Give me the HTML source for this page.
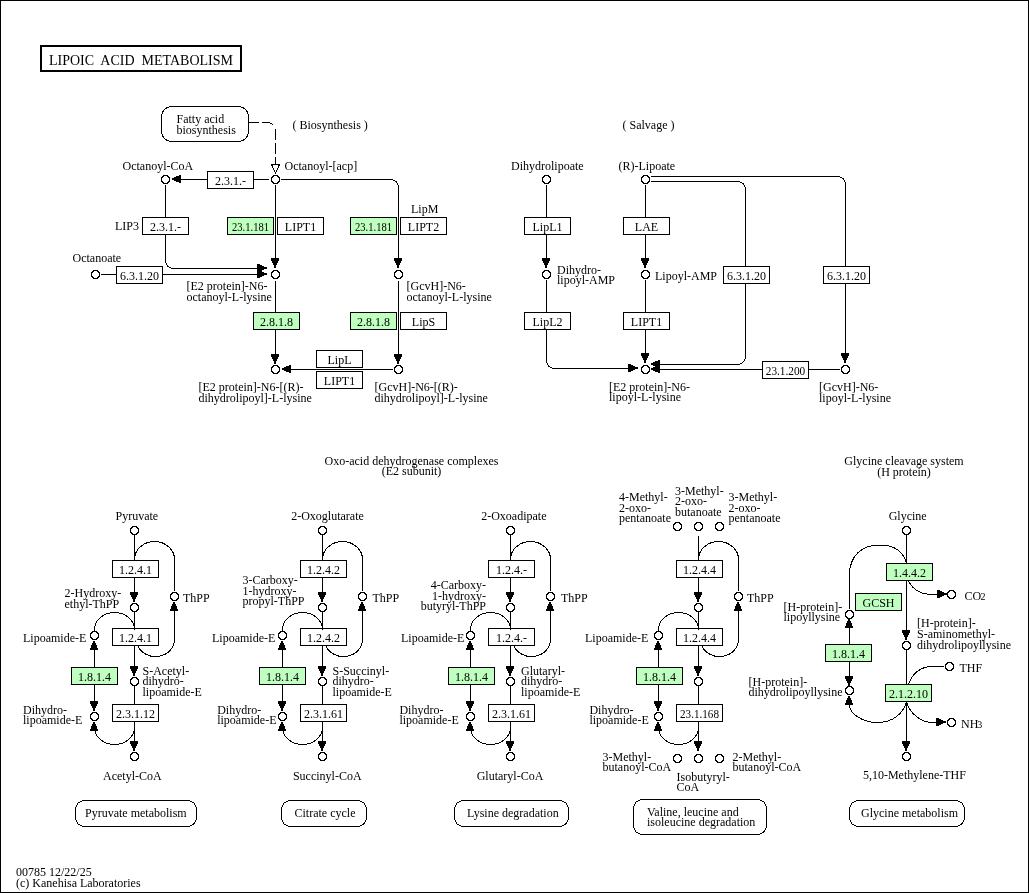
<!DOCTYPE html>
<html><head><meta charset="utf-8"><style>
html,body{margin:0;padding:0;background:#fff;}
svg{display:block;will-change:transform;}
text{font-family:"Liberation Serif",serif;fill:#000;}
</style></head><body>
<svg width="1029" height="893" viewBox="0 0 1029 893">
<rect x="0.5" y="0.5" width="1028" height="892" fill="#fff" stroke="#000"/>
<rect x="41" y="46" width="200" height="25" fill="none" stroke="#000" stroke-width="2"/>
<text x="49" y="65" font-size="14" text-anchor="start" xml:space="preserve">LIPOIC  ACID  METABOLISM</text>
<rect x="161.5" y="106.5" width="87" height="35" rx="10" ry="10" fill="#fff" stroke="#000" shape-rendering="crispEdges"/>
<text x="176.5" y="123.0" font-size="12" text-anchor="start">Fatty acid</text>
<text x="176.5" y="133.5" font-size="12" text-anchor="start">biosynthesis</text>
<text x="292.5" y="128.5" font-size="12" text-anchor="start">( Biosynthesis )</text>
<rect x="249" y="122" width="10" height="1" fill="#000"/>
<rect x="262" y="122" width="7" height="1" fill="#000"/>
<path d="M268.5 122.5Q271 122.5 273 125" fill="none" stroke="#000" shape-rendering="crispEdges"/>
<rect x="275" y="129" width="1" height="11" fill="#000"/>
<rect x="275" y="143" width="1" height="11" fill="#000"/>
<rect x="275" y="157" width="1" height="8" fill="#000"/>
<polygon points="271.5,164.5 279.5,164.5 275.5,173" fill="#fff" stroke="#000" shape-rendering="crispEdges"/>
<path d="M163 175L168 175L168 176L169 176L169 177L170 177L170 182L169 182L169 183L168 183L168 184L163 184L163 183L162 183L162 182L161 182L161 177L162 177L162 176L163 176Z" fill="#000"/><path d="M164 176L167 176L167 177L168 177L168 178L169 178L169 181L168 181L168 182L167 182L167 183L164 183L164 182L163 182L163 181L162 181L162 178L163 178L163 177L164 177Z" fill="#fff"/>
<text x="122.5" y="169.5" font-size="12" text-anchor="start">Octanoyl-CoA</text>
<path d="M273 175L278 175L278 176L279 176L279 177L280 177L280 182L279 182L279 183L278 183L278 184L273 184L273 183L272 183L272 182L271 182L271 177L272 177L272 176L273 176Z" fill="#000"/><path d="M274 176L277 176L277 177L278 177L278 178L279 178L279 181L278 181L278 182L277 182L277 183L274 183L274 182L273 182L273 181L272 181L272 178L273 178L273 177L274 177Z" fill="#fff"/>
<text x="284.5" y="170" font-size="12" text-anchor="start">Octanoyl-[acp]</text>
<rect x="207.5" y="171.5" width="46" height="17" fill="#fff" stroke="#000"/>
<text x="230.5" y="185" font-size="12" text-anchor="middle">2.3.1.-</text>
<rect x="254" y="179" width="15" height="1" fill="#000"/>
<rect x="181" y="179" width="26" height="1" fill="#000"/>
<path d="M172 178V180H174V181H176V182H179V183H181V175H179V176H176V177H174V178Z" fill="#000"/>
<rect x="281" y="179" width="110" height="1" fill="#000"/>
<path d="M390.5 179.5A8 8 0 0 1 398.5 187.5" fill="none" stroke="#000" shape-rendering="crispEdges"/>
<rect x="398" y="187" width="1" height="71" fill="#000"/>
<path d="M394 258H402V261H401V263H400V265H399V268H397V265H396V263H395V261H394Z" fill="#000"/>
<path d="M396 270L401 270L401 271L402 271L402 272L403 272L403 277L402 277L402 278L401 278L401 279L396 279L396 278L395 278L395 277L394 277L394 272L395 272L395 271L396 271Z" fill="#000"/><path d="M397 271L400 271L400 272L401 272L401 273L402 273L402 276L401 276L401 277L400 277L400 278L397 278L397 277L396 277L396 276L395 276L395 273L396 273L396 272L397 272Z" fill="#fff"/>
<rect x="275" y="185" width="1" height="73" fill="#000"/>
<path d="M271 258H279V261H278V263H277V265H276V268H274V265H273V263H272V261H271Z" fill="#000"/>
<path d="M273 270L278 270L278 271L279 271L279 272L280 272L280 277L279 277L279 278L278 278L278 279L273 279L273 278L272 278L272 277L271 277L271 272L272 272L272 271L273 271Z" fill="#000"/><path d="M274 271L277 271L277 272L278 272L278 273L279 273L279 276L278 276L278 277L277 277L277 278L274 278L274 277L273 277L273 276L272 276L272 273L273 273L273 272L274 272Z" fill="#fff"/>
<text x="115" y="230" font-size="12" text-anchor="start">LIP3</text>
<rect x="142.5" y="217.5" width="46" height="17" fill="#fff" stroke="#000"/>
<text x="165.5" y="231" font-size="12" text-anchor="middle">2.3.1.-</text>
<rect x="165" y="185" width="1" height="32" fill="#000"/>
<rect x="165" y="234" width="1" height="27" fill="#000"/>
<path d="M165.5 260.5A8 8 0 0 0 173.5 268.5" fill="none" stroke="#000" shape-rendering="crispEdges"/>
<rect x="173" y="268" width="84" height="1" fill="#000"/>
<path d="M257 264V272H260V271H262V270H264V269H267V267H264V266H262V265H260V264Z" fill="#000"/>
<path d="M93 270L98 270L98 271L99 271L99 272L100 272L100 277L99 277L99 278L98 278L98 279L93 279L93 278L92 278L92 277L91 277L91 272L92 272L92 271L93 271Z" fill="#000"/><path d="M94 271L97 271L97 272L98 272L98 273L99 273L99 276L98 276L98 277L97 277L97 278L94 278L94 277L93 277L93 276L92 276L92 273L93 273L93 272L94 272Z" fill="#fff"/>
<text x="72.5" y="261.5" font-size="12" text-anchor="start">Octanoate</text>
<rect x="116.5" y="266.5" width="46" height="17" fill="#fff" stroke="#000"/>
<text x="139.5" y="280" font-size="12" text-anchor="middle">6.3.1.20</text>
<rect x="101" y="274" width="15" height="1" fill="#000"/>
<rect x="163" y="274" width="94" height="1" fill="#000"/>
<path d="M257 270V278H260V277H262V276H264V275H267V273H264V272H262V271H260V270Z" fill="#000"/>
<rect x="227.5" y="217.5" width="46" height="17" fill="#bfffbf" stroke="#000"/>
<text x="250.5" y="231" font-size="12" text-anchor="middle" textLength="37" lengthAdjust="spacingAndGlyphs">23.1.181</text>
<rect x="277.5" y="217.5" width="46" height="17" fill="#fff" stroke="#000"/>
<text x="300.5" y="231" font-size="12" text-anchor="middle">LIPT1</text>
<rect x="350.5" y="217.5" width="46" height="17" fill="#bfffbf" stroke="#000"/>
<text x="373.5" y="231" font-size="12" text-anchor="middle" textLength="37" lengthAdjust="spacingAndGlyphs">23.1.181</text>
<rect x="400.5" y="217.5" width="46" height="17" fill="#fff" stroke="#000"/>
<text x="423.5" y="231" font-size="12" text-anchor="middle">LIPT2</text>
<text x="411" y="213" font-size="12" text-anchor="start">LipM</text>
<text x="186.5" y="290.0" font-size="12" text-anchor="start">[E2 protein]-N6-</text>
<text x="186.5" y="300.5" font-size="12" text-anchor="start">octanoyl-L-lysine</text>
<text x="406.5" y="290.0" font-size="12" text-anchor="start">[GcvH]-N6-</text>
<text x="406.5" y="300.5" font-size="12" text-anchor="start">octanoyl-L-lysine</text>
<rect x="275" y="281" width="1" height="73" fill="#000"/>
<rect x="253.5" y="312.5" width="46" height="17" fill="#bfffbf" stroke="#000"/>
<text x="276.5" y="326" font-size="12" text-anchor="middle">2.8.1.8</text>
<path d="M271 354H279V357H278V359H277V361H276V364H274V361H273V359H272V357H271Z" fill="#000"/>
<path d="M273 365L278 365L278 366L279 366L279 367L280 367L280 372L279 372L279 373L278 373L278 374L273 374L273 373L272 373L272 372L271 372L271 367L272 367L272 366L273 366Z" fill="#000"/><path d="M274 366L277 366L277 367L278 367L278 368L279 368L279 371L278 371L278 372L277 372L277 373L274 373L274 372L273 372L273 371L272 371L272 368L273 368L273 367L274 367Z" fill="#fff"/>
<rect x="398" y="281" width="1" height="73" fill="#000"/>
<rect x="350.5" y="312.5" width="46" height="17" fill="#bfffbf" stroke="#000"/>
<text x="373.5" y="326" font-size="12" text-anchor="middle">2.8.1.8</text>
<rect x="400.5" y="312.5" width="46" height="17" fill="#fff" stroke="#000"/>
<text x="423.5" y="326" font-size="12" text-anchor="middle">LipS</text>
<path d="M394 354H402V357H401V359H400V361H399V364H397V361H396V359H395V357H394Z" fill="#000"/>
<path d="M396 365L401 365L401 366L402 366L402 367L403 367L403 372L402 372L402 373L401 373L401 374L396 374L396 373L395 373L395 372L394 372L394 367L395 367L395 366L396 366Z" fill="#000"/><path d="M397 366L400 366L400 367L401 367L401 368L402 368L402 371L401 371L401 372L400 372L400 373L397 373L397 372L396 372L396 371L395 371L395 368L396 368L396 367L397 367Z" fill="#fff"/>
<rect x="291" y="369" width="102" height="1" fill="#000"/>
<path d="M282 368V370H284V371H286V372H289V373H291V365H289V366H286V367H284V368Z" fill="#000"/>
<rect x="316.5" y="350.5" width="46" height="17" fill="#fff" stroke="#000"/>
<text x="339.5" y="364" font-size="12" text-anchor="middle">LipL</text>
<rect x="316.5" y="371.5" width="46" height="17" fill="#fff" stroke="#000"/>
<text x="339.5" y="385" font-size="12" text-anchor="middle">LIPT1</text>
<text x="198.5" y="391.0" font-size="12" text-anchor="start">[E2 protein]-N6-[(R)-</text>
<text x="198.5" y="401.5" font-size="12" text-anchor="start">dihydrolipoyl]-L-lysine</text>
<text x="374.5" y="391.0" font-size="12" text-anchor="start">[GcvH]-N6-[(R)-</text>
<text x="374.5" y="401.5" font-size="12" text-anchor="start">dihydrolipoyl]-L-lysine</text>
<text x="622.5" y="129" font-size="12" text-anchor="start">( Salvage )</text>
<path d="M544 175L549 175L549 176L550 176L550 177L551 177L551 182L550 182L550 183L549 183L549 184L544 184L544 183L543 183L543 182L542 182L542 177L543 177L543 176L544 176Z" fill="#000"/><path d="M545 176L548 176L548 177L549 177L549 178L550 178L550 181L549 181L549 182L548 182L548 183L545 183L545 182L544 182L544 181L543 181L543 178L544 178L544 177L545 177Z" fill="#fff"/>
<text x="511" y="170" font-size="12" text-anchor="start">Dihydrolipoate</text>
<path d="M643 175L648 175L648 176L649 176L649 177L650 177L650 182L649 182L649 183L648 183L648 184L643 184L643 183L642 183L642 182L641 182L641 177L642 177L642 176L643 176Z" fill="#000"/><path d="M644 176L647 176L647 177L648 177L648 178L649 178L649 181L648 181L648 182L647 182L647 183L644 183L644 182L643 182L643 181L642 181L642 178L643 178L643 177L644 177Z" fill="#fff"/>
<text x="618.5" y="170" font-size="12" text-anchor="start">(R)-Lipoate</text>
<rect x="546" y="185" width="1" height="73" fill="#000"/>
<rect x="524.5" y="217.5" width="46" height="17" fill="#fff" stroke="#000"/>
<text x="547.5" y="231" font-size="12" text-anchor="middle">LipL1</text>
<path d="M542 258H550V261H549V263H548V265H547V268H545V265H544V263H543V261H542Z" fill="#000"/>
<path d="M544 270L549 270L549 271L550 271L550 272L551 272L551 277L550 277L550 278L549 278L549 279L544 279L544 278L543 278L543 277L542 277L542 272L543 272L543 271L544 271Z" fill="#000"/><path d="M545 271L548 271L548 272L549 272L549 273L550 273L550 276L549 276L549 277L548 277L548 278L545 278L545 277L544 277L544 276L543 276L543 273L544 273L544 272L545 272Z" fill="#fff"/>
<text x="557" y="273.5" font-size="12" text-anchor="start">Dihydro-</text>
<text x="557" y="284.0" font-size="12" text-anchor="start">lipoyl-AMP</text>
<rect x="546" y="280" width="1" height="81" fill="#000"/>
<path d="M546.5 360.5A8 8 0 0 0 554.5 368.5" fill="none" stroke="#000" shape-rendering="crispEdges"/>
<rect x="554" y="368" width="74" height="1" fill="#000"/>
<rect x="524.5" y="312.5" width="46" height="17" fill="#fff" stroke="#000"/>
<text x="547.5" y="326" font-size="12" text-anchor="middle">LipL2</text>
<path d="M628 364V372H631V371H633V370H635V369H638V367H635V366H633V365H631V364Z" fill="#000"/>
<rect x="645" y="185" width="1" height="73" fill="#000"/>
<rect x="623.5" y="217.5" width="46" height="17" fill="#fff" stroke="#000"/>
<text x="646.5" y="231" font-size="12" text-anchor="middle">LAE</text>
<path d="M641 258H649V261H648V263H647V265H646V268H644V265H643V263H642V261H641Z" fill="#000"/>
<path d="M643 270L648 270L648 271L649 271L649 272L650 272L650 277L649 277L649 278L648 278L648 279L643 279L643 278L642 278L642 277L641 277L641 272L642 272L642 271L643 271Z" fill="#000"/><path d="M644 271L647 271L647 272L648 272L648 273L649 273L649 276L648 276L648 277L647 277L647 278L644 278L644 277L643 277L643 276L642 276L642 273L643 273L643 272L644 272Z" fill="#fff"/>
<text x="655" y="279.5" font-size="12" text-anchor="start">Lipoyl-AMP</text>
<rect x="645" y="280" width="1" height="73" fill="#000"/>
<rect x="623.5" y="312.5" width="46" height="17" fill="#fff" stroke="#000"/>
<text x="646.5" y="326" font-size="12" text-anchor="middle">LIPT1</text>
<path d="M641 353H649V356H648V358H647V360H646V363H644V360H643V358H642V356H641Z" fill="#000"/>
<path d="M643 365L648 365L648 366L649 366L649 367L650 367L650 372L649 372L649 373L648 373L648 374L643 374L643 373L642 373L642 372L641 372L641 367L642 367L642 366L643 366Z" fill="#000"/><path d="M644 366L647 366L647 367L648 367L648 368L649 368L649 371L648 371L648 372L647 372L647 373L644 373L644 372L643 372L643 371L642 371L642 368L643 368L643 367L644 367Z" fill="#fff"/>
<text x="609" y="390.5" font-size="12" text-anchor="start">[E2 protein]-N6-</text>
<text x="609" y="401.0" font-size="12" text-anchor="start">lipoyl-L-lysine</text>
<rect x="651" y="176" width="187" height="1" fill="#000"/>
<path d="M837.5 176.5A8 8 0 0 1 845.5 184.5" fill="none" stroke="#000" shape-rendering="crispEdges"/>
<rect x="845" y="184" width="1" height="169" fill="#000"/>
<path d="M841 353H849V356H848V358H847V360H846V363H844V360H843V358H842V356H841Z" fill="#000"/>
<path d="M843 365L848 365L848 366L849 366L849 367L850 367L850 372L849 372L849 373L848 373L848 374L843 374L843 373L842 373L842 372L841 372L841 367L842 367L842 366L843 366Z" fill="#000"/><path d="M844 366L847 366L847 367L848 367L848 368L849 368L849 371L848 371L848 372L847 372L847 373L844 373L844 372L843 372L843 371L842 371L842 368L843 368L843 367L844 367Z" fill="#fff"/>
<rect x="651" y="181" width="87" height="1" fill="#000"/>
<path d="M737.5 181.5A8 8 0 0 1 745.5 189.5" fill="none" stroke="#000" shape-rendering="crispEdges"/>
<rect x="745" y="189" width="1" height="168" fill="#000"/>
<path d="M745.5 356.5A8 8 0 0 1 737.5 364.5" fill="none" stroke="#000" shape-rendering="crispEdges"/>
<rect x="660" y="364" width="78" height="1" fill="#000"/>
<path d="M651 363V365H653V366H655V367H658V368H660V360H658V361H655V362H653V363Z" fill="#000"/>
<rect x="723.5" y="266.5" width="46" height="17" fill="#fff" stroke="#000"/>
<text x="746.5" y="280" font-size="12" text-anchor="middle">6.3.1.20</text>
<rect x="823.5" y="266.5" width="46" height="17" fill="#fff" stroke="#000"/>
<text x="846.5" y="280" font-size="12" text-anchor="middle">6.3.1.20</text>
<rect x="660" y="369" width="180" height="1" fill="#000"/>
<path d="M651 368V370H653V371H655V372H658V373H660V365H658V366H655V367H653V368Z" fill="#000"/>
<rect x="762.5" y="361.5" width="46" height="17" fill="#fff" stroke="#000"/>
<text x="785.5" y="375" font-size="12" text-anchor="middle" textLength="39.5" lengthAdjust="spacingAndGlyphs">23.1.200</text>
<text x="819" y="391.0" font-size="12" text-anchor="start">[GcvH]-N6-</text>
<text x="819" y="401.5" font-size="12" text-anchor="start">lipoyl-L-lysine</text>
<text x="411.5" y="464.5" font-size="12" text-anchor="middle">Oxo-acid dehydrogenase complexes</text>
<text x="411.5" y="475.3" font-size="12" text-anchor="middle">(E2 subunit)</text>
<text x="904" y="464.5" font-size="12" text-anchor="middle">Glycine cleavage system</text>
<text x="904" y="475.5" font-size="12" text-anchor="middle">(H protein)</text>
<path d="M132 526L137 526L137 527L138 527L138 528L139 528L139 533L138 533L138 534L137 534L137 535L132 535L132 534L131 534L131 533L130 533L130 528L131 528L131 527L132 527Z" fill="#000"/><path d="M133 527L136 527L136 528L137 528L137 529L138 529L138 532L137 532L137 533L136 533L136 534L133 534L133 533L132 533L132 532L131 532L131 529L132 529L132 528L133 528Z" fill="#fff"/>
<text x="115.5" y="519.5" font-size="12" text-anchor="start">Pyruvate</text>
<rect x="134" y="535" width="1" height="25" fill="#000"/>
<rect x="112.5" y="560.5" width="46" height="17" fill="#fff" stroke="#000"/>
<text x="135.5" y="574" font-size="12" text-anchor="middle">1.2.4.1</text>
<rect x="134" y="578" width="1" height="14" fill="#000"/>
<path d="M130 592H138V595H137V597H136V599H135V602H133V599H132V597H131V595H130Z" fill="#000"/>
<path d="M132 603L137 603L137 604L138 604L138 605L139 605L139 610L138 610L138 611L137 611L137 612L132 612L132 611L131 611L131 610L130 610L130 605L131 605L131 604L132 604Z" fill="#000"/><path d="M133 604L136 604L136 605L137 605L137 606L138 606L138 609L137 609L137 610L136 610L136 611L133 611L133 610L132 610L132 609L131 609L131 606L132 606L132 605L133 605Z" fill="#fff"/>
<rect x="134" y="612" width="1" height="16" fill="#000"/>
<rect x="112.5" y="628.5" width="46" height="17" fill="#fff" stroke="#000"/>
<text x="135.5" y="642" font-size="12" text-anchor="middle">1.2.4.1</text>
<rect x="134" y="646" width="1" height="20" fill="#000"/>
<path d="M130 666H138V669H137V671H136V673H135V676H133V673H132V671H131V669H130Z" fill="#000"/>
<path d="M132 677L137 677L137 678L138 678L138 679L139 679L139 684L138 684L138 685L137 685L137 686L132 686L132 685L131 685L131 684L130 684L130 679L131 679L131 678L132 678Z" fill="#000"/><path d="M133 678L136 678L136 679L137 679L137 680L138 680L138 683L137 683L137 684L136 684L136 685L133 685L133 684L132 684L132 683L131 683L131 680L132 680L132 679L133 679Z" fill="#fff"/>
<rect x="134" y="686" width="1" height="18" fill="#000"/>
<rect x="112.5" y="704.5" width="46" height="17" fill="#fff" stroke="#000"/>
<text x="135.5" y="718" font-size="12" text-anchor="middle">2.3.1.12</text>
<rect x="134" y="722" width="1" height="19" fill="#000"/>
<path d="M130 741H138V744H137V746H136V748H135V751H133V748H132V746H131V744H130Z" fill="#000"/>
<path d="M132 752L137 752L137 753L138 753L138 754L139 754L139 759L138 759L138 760L137 760L137 761L132 761L132 760L131 760L131 759L130 759L130 754L131 754L131 753L132 753Z" fill="#000"/><path d="M133 753L136 753L136 754L137 754L137 755L138 755L138 758L137 758L137 759L136 759L136 760L133 760L133 759L132 759L132 758L131 758L131 755L132 755L132 754L133 754Z" fill="#fff"/>
<path d="M172 592L177 592L177 593L178 593L178 594L179 594L179 599L178 599L178 600L177 600L177 601L172 601L172 600L171 600L171 599L170 599L170 594L171 594L171 593L172 593Z" fill="#000"/><path d="M173 593L176 593L176 594L177 594L177 595L178 595L178 598L177 598L177 599L176 599L176 600L173 600L173 599L172 599L172 598L171 598L171 595L172 595L172 594L173 594Z" fill="#fff"/>
<text x="183" y="601.5" font-size="12" text-anchor="start">ThPP</text>
<path d="M134.5 559.5A20 18 0 0 1 174.5 559.5L174.5 591" fill="none" stroke="#000" shape-rendering="crispEdges"/>
<path d="M137.9 646A19 17 0 0 0 174.5 639.5L174.5 611" fill="none" stroke="#000" shape-rendering="crispEdges"/>
<path d="M173 602H175V604H176V606H177V609H178V611H170V609H171V606H172V604H173Z" fill="#000"/>
<path d="M92 631L97 631L97 632L98 632L98 633L99 633L99 638L98 638L98 639L97 639L97 640L92 640L92 639L91 639L91 638L90 638L90 633L91 633L91 632L92 632Z" fill="#000"/><path d="M93 632L96 632L96 633L97 633L97 634L98 634L98 637L97 637L97 638L96 638L96 639L93 639L93 638L92 638L92 637L91 637L91 634L92 634L92 633L93 633Z" fill="#fff"/>
<text x="23" y="641.5" font-size="12" text-anchor="start">Lipoamide-E</text>
<path d="M94.5 631L94.5 629.5A20 17 0 0 1 134.5 629.5" fill="none" stroke="#000" shape-rendering="crispEdges"/>
<path d="M93 641H95V643H96V645H97V648H98V650H90V648H91V645H92V643H93Z" fill="#000"/>
<rect x="94" y="650" width="1" height="51" fill="#000"/>
<rect x="71.5" y="667.5" width="46" height="17" fill="#bfffbf" stroke="#000"/>
<text x="94.5" y="681" font-size="12" text-anchor="middle">1.8.1.4</text>
<path d="M90 701H98V704H97V706H96V708H95V711H93V708H92V706H91V704H90Z" fill="#000"/>
<path d="M92 712L97 712L97 713L98 713L98 714L99 714L99 719L98 719L98 720L97 720L97 721L92 721L92 720L91 720L91 719L90 719L90 714L91 714L91 713L92 713Z" fill="#000"/><path d="M93 713L96 713L96 714L97 714L97 715L98 715L98 718L97 718L97 719L96 719L96 720L93 720L93 719L92 719L92 718L91 718L91 715L92 715L92 714L93 714Z" fill="#fff"/>
<path d="M134.5 727.5A20 17 0 0 1 94.5 727.5L94.5 731" fill="none" stroke="#000" shape-rendering="crispEdges"/>
<path d="M93 722H95V724H96V726H97V729H98V731H90V729H91V726H92V724H93Z" fill="#000"/>
<text x="23" y="713.5" font-size="12" text-anchor="start">Dihydro-</text>
<text x="23" y="724.0" font-size="12" text-anchor="start">lipoamide-E</text>
<text x="64.5" y="597.0" font-size="12" text-anchor="start">2-Hydroxy-</text>
<text x="64.5" y="607.5" font-size="12" text-anchor="start">ethyl-ThPP</text>
<text x="142.5" y="674.5" font-size="12" text-anchor="start">S-Acetyl-</text>
<text x="142.5" y="685.0" font-size="12" text-anchor="start">dihydro-</text>
<text x="142.5" y="695.5" font-size="12" text-anchor="start">lipoamide-E</text>
<text x="103" y="779.5" font-size="12" text-anchor="start">Acetyl-CoA</text>
<rect x="75.5" y="800.5" width="121" height="26" rx="9" ry="9" fill="#fff" stroke="#000" shape-rendering="crispEdges"/>
<text x="85" y="816.5" font-size="12" text-anchor="start">Pyruvate metabolism</text>
<path d="M320 526L325 526L325 527L326 527L326 528L327 528L327 533L326 533L326 534L325 534L325 535L320 535L320 534L319 534L319 533L318 533L318 528L319 528L319 527L320 527Z" fill="#000"/><path d="M321 527L324 527L324 528L325 528L325 529L326 529L326 532L325 532L325 533L324 533L324 534L321 534L321 533L320 533L320 532L319 532L319 529L320 529L320 528L321 528Z" fill="#fff"/>
<text x="291.2" y="519.5" font-size="12" text-anchor="start">2-Oxoglutarate</text>
<rect x="322" y="535" width="1" height="25" fill="#000"/>
<rect x="300.5" y="560.5" width="46" height="17" fill="#fff" stroke="#000"/>
<text x="323.5" y="574" font-size="12" text-anchor="middle">1.2.4.2</text>
<rect x="322" y="578" width="1" height="14" fill="#000"/>
<path d="M318 592H326V595H325V597H324V599H323V602H321V599H320V597H319V595H318Z" fill="#000"/>
<path d="M320 603L325 603L325 604L326 604L326 605L327 605L327 610L326 610L326 611L325 611L325 612L320 612L320 611L319 611L319 610L318 610L318 605L319 605L319 604L320 604Z" fill="#000"/><path d="M321 604L324 604L324 605L325 605L325 606L326 606L326 609L325 609L325 610L324 610L324 611L321 611L321 610L320 610L320 609L319 609L319 606L320 606L320 605L321 605Z" fill="#fff"/>
<rect x="322" y="612" width="1" height="16" fill="#000"/>
<rect x="300.5" y="628.5" width="46" height="17" fill="#fff" stroke="#000"/>
<text x="323.5" y="642" font-size="12" text-anchor="middle">1.2.4.2</text>
<rect x="322" y="646" width="1" height="20" fill="#000"/>
<path d="M318 666H326V669H325V671H324V673H323V676H321V673H320V671H319V669H318Z" fill="#000"/>
<path d="M320 677L325 677L325 678L326 678L326 679L327 679L327 684L326 684L326 685L325 685L325 686L320 686L320 685L319 685L319 684L318 684L318 679L319 679L319 678L320 678Z" fill="#000"/><path d="M321 678L324 678L324 679L325 679L325 680L326 680L326 683L325 683L325 684L324 684L324 685L321 685L321 684L320 684L320 683L319 683L319 680L320 680L320 679L321 679Z" fill="#fff"/>
<rect x="322" y="686" width="1" height="18" fill="#000"/>
<rect x="300.5" y="704.5" width="46" height="17" fill="#fff" stroke="#000"/>
<text x="323.5" y="718" font-size="12" text-anchor="middle">2.3.1.61</text>
<rect x="322" y="722" width="1" height="19" fill="#000"/>
<path d="M318 741H326V744H325V746H324V748H323V751H321V748H320V746H319V744H318Z" fill="#000"/>
<path d="M320 752L325 752L325 753L326 753L326 754L327 754L327 759L326 759L326 760L325 760L325 761L320 761L320 760L319 760L319 759L318 759L318 754L319 754L319 753L320 753Z" fill="#000"/><path d="M321 753L324 753L324 754L325 754L325 755L326 755L326 758L325 758L325 759L324 759L324 760L321 760L321 759L320 759L320 758L319 758L319 755L320 755L320 754L321 754Z" fill="#fff"/>
<path d="M360 592L365 592L365 593L366 593L366 594L367 594L367 599L366 599L366 600L365 600L365 601L360 601L360 600L359 600L359 599L358 599L358 594L359 594L359 593L360 593Z" fill="#000"/><path d="M361 593L364 593L364 594L365 594L365 595L366 595L366 598L365 598L365 599L364 599L364 600L361 600L361 599L360 599L360 598L359 598L359 595L360 595L360 594L361 594Z" fill="#fff"/>
<text x="372.5" y="601.5" font-size="12" text-anchor="start">ThPP</text>
<path d="M322.5 559.5A20 18 0 0 1 362.5 559.5L362.5 591" fill="none" stroke="#000" shape-rendering="crispEdges"/>
<path d="M325.9 646A19 17 0 0 0 362.5 639.5L362.5 611" fill="none" stroke="#000" shape-rendering="crispEdges"/>
<path d="M361 602H363V604H364V606H365V609H366V611H358V609H359V606H360V604H361Z" fill="#000"/>
<path d="M280 631L285 631L285 632L286 632L286 633L287 633L287 638L286 638L286 639L285 639L285 640L280 640L280 639L279 639L279 638L278 638L278 633L279 633L279 632L280 632Z" fill="#000"/><path d="M281 632L284 632L284 633L285 633L285 634L286 634L286 637L285 637L285 638L284 638L284 639L281 639L281 638L280 638L280 637L279 637L279 634L280 634L280 633L281 633Z" fill="#fff"/>
<text x="212" y="641.5" font-size="12" text-anchor="start">Lipoamide-E</text>
<path d="M282.5 631L282.5 629.5A20 17 0 0 1 322.5 629.5" fill="none" stroke="#000" shape-rendering="crispEdges"/>
<path d="M281 641H283V643H284V645H285V648H286V650H278V648H279V645H280V643H281Z" fill="#000"/>
<rect x="282" y="650" width="1" height="51" fill="#000"/>
<rect x="259.5" y="667.5" width="46" height="17" fill="#bfffbf" stroke="#000"/>
<text x="282.5" y="681" font-size="12" text-anchor="middle">1.8.1.4</text>
<path d="M278 701H286V704H285V706H284V708H283V711H281V708H280V706H279V704H278Z" fill="#000"/>
<path d="M280 712L285 712L285 713L286 713L286 714L287 714L287 719L286 719L286 720L285 720L285 721L280 721L280 720L279 720L279 719L278 719L278 714L279 714L279 713L280 713Z" fill="#000"/><path d="M281 713L284 713L284 714L285 714L285 715L286 715L286 718L285 718L285 719L284 719L284 720L281 720L281 719L280 719L280 718L279 718L279 715L280 715L280 714L281 714Z" fill="#fff"/>
<path d="M322.5 727.5A20 17 0 0 1 282.5 727.5L282.5 731" fill="none" stroke="#000" shape-rendering="crispEdges"/>
<path d="M281 722H283V724H284V726H285V729H286V731H278V729H279V726H280V724H281Z" fill="#000"/>
<text x="217.2" y="713.5" font-size="12" text-anchor="start">Dihydro-</text>
<text x="217.2" y="724.0" font-size="12" text-anchor="start">lipoamide-E</text>
<text x="242.5" y="584.0" font-size="12" text-anchor="start">3-Carboxy-</text>
<text x="242.5" y="594.5" font-size="12" text-anchor="start">1-hydroxy-</text>
<text x="242.5" y="605.0" font-size="12" text-anchor="start">propyl-ThPP</text>
<text x="332.5" y="674.5" font-size="12" text-anchor="start">S-Succinyl-</text>
<text x="332.5" y="685.0" font-size="12" text-anchor="start">dihydro-</text>
<text x="332.5" y="695.5" font-size="12" text-anchor="start">lipoamide-E</text>
<text x="292.9" y="779.5" font-size="12" text-anchor="start">Succinyl-CoA</text>
<rect x="281.5" y="800.5" width="85" height="26" rx="9" ry="9" fill="#fff" stroke="#000" shape-rendering="crispEdges"/>
<text x="294.5" y="816.5" font-size="12" text-anchor="start">Citrate cycle</text>
<path d="M508 526L513 526L513 527L514 527L514 528L515 528L515 533L514 533L514 534L513 534L513 535L508 535L508 534L507 534L507 533L506 533L506 528L507 528L507 527L508 527Z" fill="#000"/><path d="M509 527L512 527L512 528L513 528L513 529L514 529L514 532L513 532L513 533L512 533L512 534L509 534L509 533L508 533L508 532L507 532L507 529L508 529L508 528L509 528Z" fill="#fff"/>
<text x="481.2" y="519.5" font-size="12" text-anchor="start">2-Oxoadipate</text>
<rect x="510" y="535" width="1" height="25" fill="#000"/>
<rect x="488.5" y="560.5" width="46" height="17" fill="#fff" stroke="#000"/>
<text x="511.5" y="574" font-size="12" text-anchor="middle">1.2.4.-</text>
<rect x="510" y="578" width="1" height="14" fill="#000"/>
<path d="M506 592H514V595H513V597H512V599H511V602H509V599H508V597H507V595H506Z" fill="#000"/>
<path d="M508 603L513 603L513 604L514 604L514 605L515 605L515 610L514 610L514 611L513 611L513 612L508 612L508 611L507 611L507 610L506 610L506 605L507 605L507 604L508 604Z" fill="#000"/><path d="M509 604L512 604L512 605L513 605L513 606L514 606L514 609L513 609L513 610L512 610L512 611L509 611L509 610L508 610L508 609L507 609L507 606L508 606L508 605L509 605Z" fill="#fff"/>
<rect x="510" y="612" width="1" height="16" fill="#000"/>
<rect x="488.5" y="628.5" width="46" height="17" fill="#fff" stroke="#000"/>
<text x="511.5" y="642" font-size="12" text-anchor="middle">1.2.4.-</text>
<rect x="510" y="646" width="1" height="20" fill="#000"/>
<path d="M506 666H514V669H513V671H512V673H511V676H509V673H508V671H507V669H506Z" fill="#000"/>
<path d="M508 677L513 677L513 678L514 678L514 679L515 679L515 684L514 684L514 685L513 685L513 686L508 686L508 685L507 685L507 684L506 684L506 679L507 679L507 678L508 678Z" fill="#000"/><path d="M509 678L512 678L512 679L513 679L513 680L514 680L514 683L513 683L513 684L512 684L512 685L509 685L509 684L508 684L508 683L507 683L507 680L508 680L508 679L509 679Z" fill="#fff"/>
<rect x="510" y="686" width="1" height="18" fill="#000"/>
<rect x="488.5" y="704.5" width="46" height="17" fill="#fff" stroke="#000"/>
<text x="511.5" y="718" font-size="12" text-anchor="middle">2.3.1.61</text>
<rect x="510" y="722" width="1" height="19" fill="#000"/>
<path d="M506 741H514V744H513V746H512V748H511V751H509V748H508V746H507V744H506Z" fill="#000"/>
<path d="M508 752L513 752L513 753L514 753L514 754L515 754L515 759L514 759L514 760L513 760L513 761L508 761L508 760L507 760L507 759L506 759L506 754L507 754L507 753L508 753Z" fill="#000"/><path d="M509 753L512 753L512 754L513 754L513 755L514 755L514 758L513 758L513 759L512 759L512 760L509 760L509 759L508 759L508 758L507 758L507 755L508 755L508 754L509 754Z" fill="#fff"/>
<path d="M548 592L553 592L553 593L554 593L554 594L555 594L555 599L554 599L554 600L553 600L553 601L548 601L548 600L547 600L547 599L546 599L546 594L547 594L547 593L548 593Z" fill="#000"/><path d="M549 593L552 593L552 594L553 594L553 595L554 595L554 598L553 598L553 599L552 599L552 600L549 600L549 599L548 599L548 598L547 598L547 595L548 595L548 594L549 594Z" fill="#fff"/>
<text x="561" y="601.5" font-size="12" text-anchor="start">ThPP</text>
<path d="M510.5 559.5A20 18 0 0 1 550.5 559.5L550.5 591" fill="none" stroke="#000" shape-rendering="crispEdges"/>
<path d="M513.9 646A19 17 0 0 0 550.5 639.5L550.5 611" fill="none" stroke="#000" shape-rendering="crispEdges"/>
<path d="M549 602H551V604H552V606H553V609H554V611H546V609H547V606H548V604H549Z" fill="#000"/>
<path d="M468 631L473 631L473 632L474 632L474 633L475 633L475 638L474 638L474 639L473 639L473 640L468 640L468 639L467 639L467 638L466 638L466 633L467 633L467 632L468 632Z" fill="#000"/><path d="M469 632L472 632L472 633L473 633L473 634L474 634L474 637L473 637L473 638L472 638L472 639L469 639L469 638L468 638L468 637L467 637L467 634L468 634L468 633L469 633Z" fill="#fff"/>
<text x="401" y="641.5" font-size="12" text-anchor="start">Lipoamide-E</text>
<path d="M470.5 631L470.5 629.5A20 17 0 0 1 510.5 629.5" fill="none" stroke="#000" shape-rendering="crispEdges"/>
<path d="M469 641H471V643H472V645H473V648H474V650H466V648H467V645H468V643H469Z" fill="#000"/>
<rect x="470" y="650" width="1" height="51" fill="#000"/>
<rect x="448.5" y="667.5" width="46" height="17" fill="#bfffbf" stroke="#000"/>
<text x="471.5" y="681" font-size="12" text-anchor="middle">1.8.1.4</text>
<path d="M466 701H474V704H473V706H472V708H471V711H469V708H468V706H467V704H466Z" fill="#000"/>
<path d="M468 712L473 712L473 713L474 713L474 714L475 714L475 719L474 719L474 720L473 720L473 721L468 721L468 720L467 720L467 719L466 719L466 714L467 714L467 713L468 713Z" fill="#000"/><path d="M469 713L472 713L472 714L473 714L473 715L474 715L474 718L473 718L473 719L472 719L472 720L469 720L469 719L468 719L468 718L467 718L467 715L468 715L468 714L469 714Z" fill="#fff"/>
<path d="M510.5 727.5A20 17 0 0 1 470.5 727.5L470.5 731" fill="none" stroke="#000" shape-rendering="crispEdges"/>
<path d="M469 722H471V724H472V726H473V729H474V731H466V729H467V726H468V724H469Z" fill="#000"/>
<text x="399.4" y="713.5" font-size="12" text-anchor="start">Dihydro-</text>
<text x="399.4" y="724.0" font-size="12" text-anchor="start">lipoamide-E</text>
<text x="486" y="589.0" font-size="12" text-anchor="end">4-Carboxy-</text>
<text x="486" y="599.5" font-size="12" text-anchor="end">1-hydroxy-</text>
<text x="486" y="610.0" font-size="12" text-anchor="end">butyryl-ThPP</text>
<text x="521" y="674.5" font-size="12" text-anchor="start">Glutaryl-</text>
<text x="521" y="685.0" font-size="12" text-anchor="start">dihydro-</text>
<text x="521" y="695.5" font-size="12" text-anchor="start">lipoamide-E</text>
<text x="476.7" y="779.5" font-size="12" text-anchor="start">Glutaryl-CoA</text>
<rect x="454.5" y="800.5" width="114" height="26" rx="9" ry="9" fill="#fff" stroke="#000" shape-rendering="crispEdges"/>
<text x="467" y="816.5" font-size="12" text-anchor="start">Lysine degradation</text>
<rect x="698" y="536" width="1" height="24" fill="#000"/>
<rect x="676.5" y="560.5" width="46" height="17" fill="#fff" stroke="#000"/>
<text x="699.5" y="574" font-size="12" text-anchor="middle">1.2.4.4</text>
<rect x="698" y="578" width="1" height="14" fill="#000"/>
<path d="M694 592H702V595H701V597H700V599H699V602H697V599H696V597H695V595H694Z" fill="#000"/>
<path d="M696 603L701 603L701 604L702 604L702 605L703 605L703 610L702 610L702 611L701 611L701 612L696 612L696 611L695 611L695 610L694 610L694 605L695 605L695 604L696 604Z" fill="#000"/><path d="M697 604L700 604L700 605L701 605L701 606L702 606L702 609L701 609L701 610L700 610L700 611L697 611L697 610L696 610L696 609L695 609L695 606L696 606L696 605L697 605Z" fill="#fff"/>
<rect x="698" y="612" width="1" height="16" fill="#000"/>
<rect x="676.5" y="628.5" width="46" height="17" fill="#fff" stroke="#000"/>
<text x="699.5" y="642" font-size="12" text-anchor="middle">1.2.4.4</text>
<rect x="698" y="646" width="1" height="20" fill="#000"/>
<path d="M694 666H702V669H701V671H700V673H699V676H697V673H696V671H695V669H694Z" fill="#000"/>
<path d="M696 677L701 677L701 678L702 678L702 679L703 679L703 684L702 684L702 685L701 685L701 686L696 686L696 685L695 685L695 684L694 684L694 679L695 679L695 678L696 678Z" fill="#000"/><path d="M697 678L700 678L700 679L701 679L701 680L702 680L702 683L701 683L701 684L700 684L700 685L697 685L697 684L696 684L696 683L695 683L695 680L696 680L696 679L697 679Z" fill="#fff"/>
<rect x="698" y="686" width="1" height="18" fill="#000"/>
<rect x="676.5" y="704.5" width="46" height="17" fill="#fff" stroke="#000"/>
<text x="699.5" y="718" font-size="12" text-anchor="middle" textLength="39" lengthAdjust="spacingAndGlyphs">23.1.168</text>
<rect x="698" y="722" width="1" height="19" fill="#000"/>
<path d="M694 741H702V744H701V746H700V748H699V751H697V748H696V746H695V744H694Z" fill="#000"/>
<path d="M736 592L741 592L741 593L742 593L742 594L743 594L743 599L742 599L742 600L741 600L741 601L736 601L736 600L735 600L735 599L734 599L734 594L735 594L735 593L736 593Z" fill="#000"/><path d="M737 593L740 593L740 594L741 594L741 595L742 595L742 598L741 598L741 599L740 599L740 600L737 600L737 599L736 599L736 598L735 598L735 595L736 595L736 594L737 594Z" fill="#fff"/>
<text x="747" y="601.5" font-size="12" text-anchor="start">ThPP</text>
<path d="M698.5 559.5A20 18 0 0 1 738.5 559.5L738.5 591" fill="none" stroke="#000" shape-rendering="crispEdges"/>
<path d="M701.9 646A19 17 0 0 0 738.5 639.5L738.5 611" fill="none" stroke="#000" shape-rendering="crispEdges"/>
<path d="M737 602H739V604H740V606H741V609H742V611H734V609H735V606H736V604H737Z" fill="#000"/>
<path d="M656 631L661 631L661 632L662 632L662 633L663 633L663 638L662 638L662 639L661 639L661 640L656 640L656 639L655 639L655 638L654 638L654 633L655 633L655 632L656 632Z" fill="#000"/><path d="M657 632L660 632L660 633L661 633L661 634L662 634L662 637L661 637L661 638L660 638L660 639L657 639L657 638L656 638L656 637L655 637L655 634L656 634L656 633L657 633Z" fill="#fff"/>
<text x="585" y="641.5" font-size="12" text-anchor="start">Lipoamide-E</text>
<path d="M658.5 631L658.5 629.5A20 17 0 0 1 698.5 629.5" fill="none" stroke="#000" shape-rendering="crispEdges"/>
<path d="M657 641H659V643H660V645H661V648H662V650H654V648H655V645H656V643H657Z" fill="#000"/>
<rect x="658" y="650" width="1" height="51" fill="#000"/>
<rect x="636.5" y="667.5" width="46" height="17" fill="#bfffbf" stroke="#000"/>
<text x="659.5" y="681" font-size="12" text-anchor="middle">1.8.1.4</text>
<path d="M654 701H662V704H661V706H660V708H659V711H657V708H656V706H655V704H654Z" fill="#000"/>
<path d="M656 712L661 712L661 713L662 713L662 714L663 714L663 719L662 719L662 720L661 720L661 721L656 721L656 720L655 720L655 719L654 719L654 714L655 714L655 713L656 713Z" fill="#000"/><path d="M657 713L660 713L660 714L661 714L661 715L662 715L662 718L661 718L661 719L660 719L660 720L657 720L657 719L656 719L656 718L655 718L655 715L656 715L656 714L657 714Z" fill="#fff"/>
<path d="M698.5 727.5A20 17 0 0 1 658.5 727.5L658.5 731" fill="none" stroke="#000" shape-rendering="crispEdges"/>
<path d="M657 722H659V724H660V726H661V729H662V731H654V729H655V726H656V724H657Z" fill="#000"/>
<text x="589.4" y="713.5" font-size="12" text-anchor="start">Dihydro-</text>
<text x="589.4" y="724.0" font-size="12" text-anchor="start">lipoamide-E</text>
<path d="M675 522L680 522L680 523L681 523L681 524L682 524L682 529L681 529L681 530L680 530L680 531L675 531L675 530L674 530L674 529L673 529L673 524L674 524L674 523L675 523Z" fill="#000"/><path d="M676 523L679 523L679 524L680 524L680 525L681 525L681 528L680 528L680 529L679 529L679 530L676 530L676 529L675 529L675 528L674 528L674 525L675 525L675 524L676 524Z" fill="#fff"/>
<path d="M675 754L680 754L680 755L681 755L681 756L682 756L682 761L681 761L681 762L680 762L680 763L675 763L675 762L674 762L674 761L673 761L673 756L674 756L674 755L675 755Z" fill="#000"/><path d="M676 755L679 755L679 756L680 756L680 757L681 757L681 760L680 760L680 761L679 761L679 762L676 762L676 761L675 761L675 760L674 760L674 757L675 757L675 756L676 756Z" fill="#fff"/>
<path d="M696 522L701 522L701 523L702 523L702 524L703 524L703 529L702 529L702 530L701 530L701 531L696 531L696 530L695 530L695 529L694 529L694 524L695 524L695 523L696 523Z" fill="#000"/><path d="M697 523L700 523L700 524L701 524L701 525L702 525L702 528L701 528L701 529L700 529L700 530L697 530L697 529L696 529L696 528L695 528L695 525L696 525L696 524L697 524Z" fill="#fff"/>
<path d="M696 754L701 754L701 755L702 755L702 756L703 756L703 761L702 761L702 762L701 762L701 763L696 763L696 762L695 762L695 761L694 761L694 756L695 756L695 755L696 755Z" fill="#000"/><path d="M697 755L700 755L700 756L701 756L701 757L702 757L702 760L701 760L701 761L700 761L700 762L697 762L697 761L696 761L696 760L695 760L695 757L696 757L696 756L697 756Z" fill="#fff"/>
<path d="M717 522L722 522L722 523L723 523L723 524L724 524L724 529L723 529L723 530L722 530L722 531L717 531L717 530L716 530L716 529L715 529L715 524L716 524L716 523L717 523Z" fill="#000"/><path d="M718 523L721 523L721 524L722 524L722 525L723 525L723 528L722 528L722 529L721 529L721 530L718 530L718 529L717 529L717 528L716 528L716 525L717 525L717 524L718 524Z" fill="#fff"/>
<path d="M717 754L722 754L722 755L723 755L723 756L724 756L724 761L723 761L723 762L722 762L722 763L717 763L717 762L716 762L716 761L715 761L715 756L716 756L716 755L717 755Z" fill="#000"/><path d="M718 755L721 755L721 756L722 756L722 757L723 757L723 760L722 760L722 761L721 761L721 762L718 762L718 761L717 761L717 760L716 760L716 757L717 757L717 756L718 756Z" fill="#fff"/>
<text x="619" y="501.0" font-size="12" text-anchor="start">4-Methyl-</text>
<text x="619" y="511.5" font-size="12" text-anchor="start">2-oxo-</text>
<text x="619" y="522.0" font-size="12" text-anchor="start">pentanoate</text>
<text x="675" y="494.5" font-size="12" text-anchor="start">3-Methyl-</text>
<text x="675" y="505.0" font-size="12" text-anchor="start">2-oxo-</text>
<text x="675" y="515.5" font-size="12" text-anchor="start">butanoate</text>
<text x="728.5" y="501.0" font-size="12" text-anchor="start">3-Methyl-</text>
<text x="728.5" y="511.5" font-size="12" text-anchor="start">2-oxo-</text>
<text x="728.5" y="522.0" font-size="12" text-anchor="start">pentanoate</text>
<text x="602.5" y="760.5" font-size="12" text-anchor="start">3-Methyl-</text>
<text x="602.5" y="771.0" font-size="12" text-anchor="start">butanoyl-CoA</text>
<text x="732.5" y="760.5" font-size="12" text-anchor="start">2-Methyl-</text>
<text x="732.5" y="771.0" font-size="12" text-anchor="start">butanoyl-CoA</text>
<text x="676.5" y="780.5" font-size="12" text-anchor="start">Isobutyryl-</text>
<text x="676.5" y="791.0" font-size="12" text-anchor="start">CoA</text>
<rect x="633.5" y="799.5" width="133" height="35" rx="9" ry="9" fill="#fff" stroke="#000" shape-rendering="crispEdges"/>
<text x="647" y="815.5" font-size="12" text-anchor="start">Valine, leucine and</text>
<text x="647" y="826.0" font-size="12" text-anchor="start">isoleucine degradation</text>
<path d="M904 526L909 526L909 527L910 527L910 528L911 528L911 533L910 533L910 534L909 534L909 535L904 535L904 534L903 534L903 533L902 533L902 528L903 528L903 527L904 527Z" fill="#000"/><path d="M905 527L908 527L908 528L909 528L909 529L910 529L910 532L909 532L909 533L908 533L908 534L905 534L905 533L904 533L904 532L903 532L903 529L904 529L904 528L905 528Z" fill="#fff"/>
<text x="888.7" y="520" font-size="12" text-anchor="start">Glycine</text>
<rect x="906" y="535" width="1" height="95" fill="#000"/>
<rect x="886.5" y="563.5" width="46" height="17" fill="#bfffbf" stroke="#000"/>
<text x="909.5" y="577" font-size="12" text-anchor="middle">1.4.4.2</text>
<path d="M902 630H910V633H909V635H908V637H907V640H905V637H904V635H903V633H902Z" fill="#000"/>
<path d="M904 641L909 641L909 642L910 642L910 643L911 643L911 648L910 648L910 649L909 649L909 650L904 650L904 649L903 649L903 648L902 648L902 643L903 643L903 642L904 642Z" fill="#000"/><path d="M905 642L908 642L908 643L909 643L909 644L910 644L910 647L909 647L909 648L908 648L908 649L905 649L905 648L904 648L904 647L903 647L903 644L904 644L904 643L905 643Z" fill="#fff"/>
<path d="M906.5 563.5C903.5 552 894.5 545 879.5 545C861.5 545 849.5 556 849.5 575L849.5 609" fill="none" stroke="#000" shape-rendering="crispEdges"/>
<rect x="855.5" y="593.5" width="46" height="17" fill="#bfffbf" stroke="#000"/>
<text x="878.5" y="607" font-size="12" text-anchor="middle">GCSH</text>
<path d="M908.5 581C912.5 589 920.5 594.5 932.5 594.5L937 594.5" fill="none" stroke="#000" shape-rendering="crispEdges"/>
<path d="M937 590V598H940V597H942V596H944V595H947V593H944V592H942V591H940V590Z" fill="#000"/>
<path d="M949 590L954 590L954 591L955 591L955 592L956 592L956 597L955 597L955 598L954 598L954 599L949 599L949 598L948 598L948 597L947 597L947 592L948 592L948 591L949 591Z" fill="#000"/><path d="M950 591L953 591L953 592L954 592L954 593L955 593L955 596L954 596L954 597L953 597L953 598L950 598L950 597L949 597L949 596L948 596L948 593L949 593L949 592L950 592Z" fill="#fff"/>
<text x="964.5" y="600" font-size="12" text-anchor="start">CO</text>
<text x="980.5" y="600" font-size="10" text-anchor="start">2</text>
<path d="M847 610L852 610L852 611L853 611L853 612L854 612L854 617L853 617L853 618L852 618L852 619L847 619L847 618L846 618L846 617L845 617L845 612L846 612L846 611L847 611Z" fill="#000"/><path d="M848 611L851 611L851 612L852 612L852 613L853 613L853 616L852 616L852 617L851 617L851 618L848 618L848 617L847 617L847 616L846 616L846 613L847 613L847 612L848 612Z" fill="#fff"/>
<text x="783.5" y="610.5" font-size="12" text-anchor="start">[H-protein]-</text>
<text x="783.5" y="621.0" font-size="12" text-anchor="start">lipoyllysine</text>
<path d="M848 619H850V621H851V623H852V626H853V628H845V626H846V623H847V621H848Z" fill="#000"/>
<rect x="849" y="628" width="1" height="49" fill="#000"/>
<rect x="825.5" y="644.5" width="46" height="17" fill="#bfffbf" stroke="#000"/>
<text x="848.5" y="658" font-size="12" text-anchor="middle">1.8.1.4</text>
<path d="M845 676H853V679H852V681H851V683H850V686H848V683H847V681H846V679H845Z" fill="#000"/>
<path d="M847 686L852 686L852 687L853 687L853 688L854 688L854 693L853 693L853 694L852 694L852 695L847 695L847 694L846 694L846 693L845 693L845 688L846 688L846 687L847 687Z" fill="#000"/><path d="M848 687L851 687L851 688L852 688L852 689L853 689L853 692L852 692L852 693L851 693L851 694L848 694L848 693L847 693L847 692L846 692L846 689L847 689L847 688L848 688Z" fill="#fff"/>
<text x="748.5" y="685.5" font-size="12" text-anchor="start">[H-protein]-</text>
<text x="748.5" y="696.0" font-size="12" text-anchor="start">dihydrolipoyllysine</text>
<path d="M848 696H850V698H851V700H852V703H853V705H845V703H846V700H847V698H848Z" fill="#000"/>
<text x="917" y="627" font-size="12" text-anchor="start">[H-protein]-</text>
<text x="917" y="638" font-size="12" text-anchor="start">S-aminomethyl-</text>
<text x="917" y="649" font-size="12" text-anchor="start">dihydrolipoyllysine</text>
<rect x="906" y="650" width="1" height="91" fill="#000"/>
<rect x="885.5" y="684.5" width="46" height="17" fill="#bfffbf" stroke="#000"/>
<text x="908.5" y="698" font-size="12" text-anchor="middle">2.1.2.10</text>
<path d="M947 662L952 662L952 663L953 663L953 664L954 664L954 669L953 669L953 670L952 670L952 671L947 671L947 670L946 670L946 669L945 669L945 664L946 664L946 663L947 663Z" fill="#000"/><path d="M948 663L951 663L951 664L952 664L952 665L953 665L953 668L952 668L952 669L951 669L951 670L948 670L948 669L947 669L947 668L946 668L946 665L947 665L947 664L948 664Z" fill="#fff"/>
<text x="959.5" y="671.5" font-size="12" text-anchor="start">THF</text>
<path d="M908.5 684C912.5 674 920.5 666.5 932.5 666.5L944 666.5" fill="none" stroke="#000" shape-rendering="crispEdges"/>
<path d="M906.5 701.5C903.5 713 893.5 722.5 877.5 722.5C861.5 722.5 849.5 713 849.5 705" fill="none" stroke="#000" shape-rendering="crispEdges"/>
<path d="M906.5 701.5C909.5 713 920.5 722.5 932.5 722.5L937 722.5" fill="none" stroke="#000" shape-rendering="crispEdges"/>
<path d="M936 718V726H939V725H941V724H943V723H946V721H943V720H941V719H939V718Z" fill="#000"/>
<path d="M949 718L954 718L954 719L955 719L955 720L956 720L956 725L955 725L955 726L954 726L954 727L949 727L949 726L948 726L948 725L947 725L947 720L948 720L948 719L949 719Z" fill="#000"/><path d="M950 719L953 719L953 720L954 720L954 721L955 721L955 724L954 724L954 725L953 725L953 726L950 726L950 725L949 725L949 724L948 724L948 721L949 721L949 720L950 720Z" fill="#fff"/>
<text x="961" y="727.5" font-size="12" text-anchor="start">NH</text>
<text x="977.3" y="727.5" font-size="10" text-anchor="start">3</text>
<path d="M902 741H910V744H909V746H908V748H907V751H905V748H904V746H903V744H902Z" fill="#000"/>
<path d="M904 752L909 752L909 753L910 753L910 754L911 754L911 759L910 759L910 760L909 760L909 761L904 761L904 760L903 760L903 759L902 759L902 754L903 754L903 753L904 753Z" fill="#000"/><path d="M905 753L908 753L908 754L909 754L909 755L910 755L910 758L909 758L909 759L908 759L908 760L905 760L905 759L904 759L904 758L903 758L903 755L904 755L904 754L905 754Z" fill="#fff"/>
<text x="862.9" y="778.5" font-size="12" text-anchor="start">5,10-Methylene-THF</text>
<rect x="849.5" y="800.5" width="115" height="26" rx="9" ry="9" fill="#fff" stroke="#000" shape-rendering="crispEdges"/>
<text x="861" y="816.5" font-size="12" text-anchor="start">Glycine metabolism</text>
<text x="16" y="876" font-size="12" text-anchor="start">00785 12/22/25</text>
<text x="16" y="886.5" font-size="12" text-anchor="start">(c) Kanehisa Laboratories</text>
</svg>
</body></html>
